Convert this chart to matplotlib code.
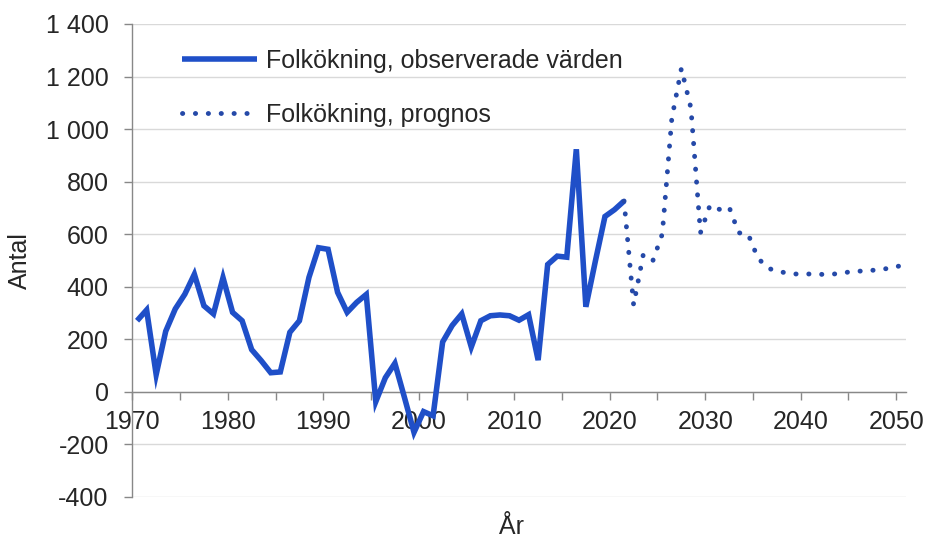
import matplotlib
matplotlib.use("Agg")
import matplotlib.pyplot as plt
from matplotlib.ticker import MultipleLocator, FuncFormatter
import numpy as np

plt.rcParams['font.family'] = ['Liberation Sans', 'DejaVu Sans']

obs_years = list(range(1970, 2022))
obs_values = [270, 311, 65, 230, 315, 371, 447, 327, 296, 434,
              302, 270, 160, 118, 72, 75, 226, 270, 435, 548,
              542, 378, 302, 340, 370, -38, 53, 108, -22, -155,
              -76, -92, 189, 252, 296, 170, 270, 289, 292, 289,
              272, 293, 120, 484, 516, 512, 923, 323, 498, 667,
              693, 726]

prog_years = list(range(2021, 2051))
prog_values = [726, 330, 520, 497, 600, 1040, 1230, 1080, 605, 710,
               694, 703, 605, 599, 510, 471, 459, 452, 448, 448,
               448, 446, 448, 452, 459, 459, 462, 466, 471, 480]

label_obs = "Folkökning, observerade värden"
label_prog = "Folkökning, prognos"
xlabel = "År"
ylabel = "Antal"

FS = 18
TXT = "#262626"

fig = plt.figure(figsize=(9.33, 5.39), dpi=100)
ax = fig.add_axes([0.1418, 0.0785, 0.829, 0.877])

x_obs = np.array(obs_years) + 0.5
x_prog = np.array(prog_years) + 0.5

ax.plot(x_obs, obs_values, color="#1F4FC8", lw=4.0, solid_joinstyle='miter',
        solid_capstyle='butt', label=label_obs, zorder=3)
ax.plot(x_prog, prog_values, color="#2549A8", lw=3.5,
        linestyle=(0, (0.05, 2.6)), dash_capstyle='round', label=label_prog, zorder=3)

ax.set_xlim(1970, 2051)
ax.set_ylim(-400, 1400)
ax.yaxis.set_major_locator(MultipleLocator(200))
ax.yaxis.set_major_formatter(FuncFormatter(lambda v, p: f"{int(v):,}".replace(",", " ")))
ax.xaxis.set_major_locator(MultipleLocator(10))
ax.xaxis.set_minor_locator(MultipleLocator(5))
ax.xaxis.set_major_formatter(FuncFormatter(lambda v, p: f"{int(v)}"))

ax.grid(axis='y', color="#D9D9D9", lw=1.0, zorder=0)
ax.set_axisbelow(True)

for s in ['top', 'right']:
    ax.spines[s].set_visible(False)
ax.spines['left'].set_color("#888888")
ax.spines['bottom'].set_color("#888888")
ax.spines['bottom'].set_position(('data', 0))
ax.spines['left'].set_linewidth(1.0)
ax.spines['bottom'].set_linewidth(1.0)

ax.tick_params(axis='y', which='major', length=6, width=1, color="#888888",
               labelsize=FS, labelcolor=TXT, pad=11)
ax.tick_params(axis='x', which='both', length=6, width=1, color="#888888",
               direction='out')
ax.tick_params(axis='x', which='major', labelsize=FS, labelcolor=TXT, pad=7)

ax.set_ylabel(ylabel, fontsize=FS, color=TXT, labelpad=10)
ax.set_xlabel(xlabel, fontsize=FS, color=TXT)
ax.xaxis.set_label_coords(0.49, -0.038)

leg = ax.legend(loc='upper left', bbox_to_anchor=(0.064, 0.948), frameon=False,
                fontsize=FS, handlelength=3.0, handletextpad=0.35,
                labelspacing=1.2, borderpad=0, borderaxespad=0)
for t in leg.get_texts():
    t.set_color(TXT)

fig.savefig("out.png", dpi=100)
